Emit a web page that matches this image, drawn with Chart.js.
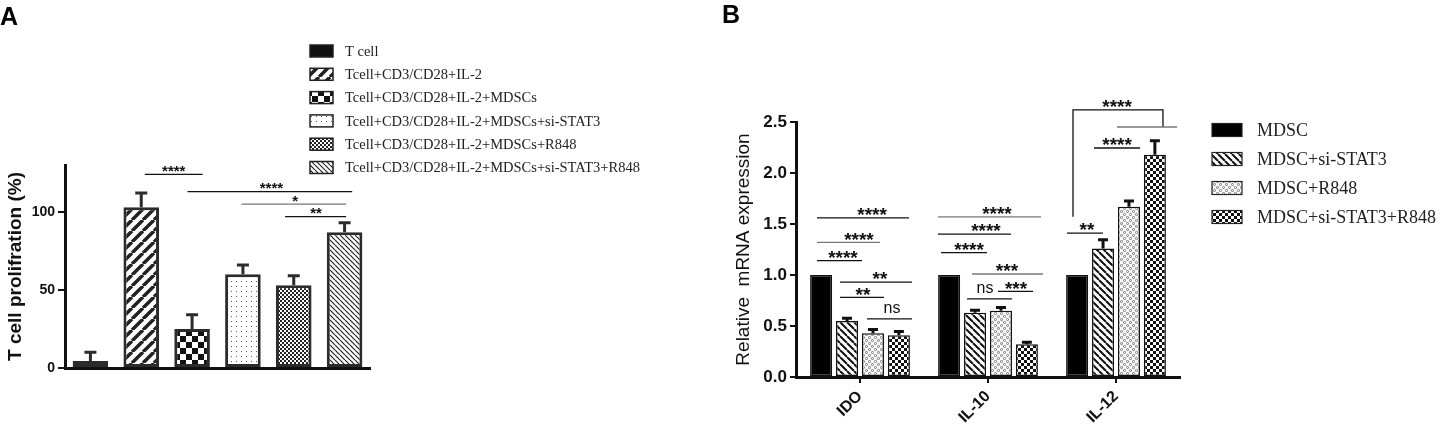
<!DOCTYPE html>
<html>
<head>
<meta charset="utf-8">
<script src="https://cdn.jsdelivr.net/npm/chart.js@4.4.1/dist/chart.umd.min.js"></script>
<style>
  html, body { margin: 0; padding: 0; background: #fff; }
  body { width: 1446px; height: 433px; position: relative; overflow: hidden; }
  #wrapA { position: absolute; left: 0; top: 0; width: 700px; height: 433px; }
  #wrapB { position: absolute; left: 700px; top: 0; width: 746px; height: 433px; }
  .panel { position: absolute; font: bold 25px Arial, "Liberation Sans", sans-serif; color: #000; z-index: 2; }
</style>
</head>
<body>
<div id="wrapA"><canvas id="chartA"></canvas></div>
<div id="wrapB"><canvas id="chartB"></canvas></div>
<div class="panel" style="left:0px;top:2px">A</div>
<div class="panel" style="left:722px;top:0px">B</div>
<script>
// ---- panel A data ----
const groupsA = ['T cell', 'Tcell+CD3/CD28+IL-2', 'Tcell+CD3/CD28+IL-2+MDSCs',
  'Tcell+CD3/CD28+IL-2+MDSCs+si-STAT3', 'Tcell+CD3/CD28+IL-2+MDSCs+R848',
  'Tcell+CD3/CD28+IL-2+MDSCs+si-STAT3+R848'];
const prolif = [4.5, 103, 25, 60, 53, 87];
const prolifErr = [6.5, 10, 10, 7, 7, 7];
const ticksA = [0, 50, 100];
// significance marks, x in category units, y in data units
const sigA = [
  { x1: 1.07, x2: 2.21, y: 124, tx: 1.64, label: '****' },
  { x1: 1.91, x2: 5.15, y: 113, tx: 3.56, label: '****' },
  { x1: 2.97, x2: 5.03, y: 105, tx: 4.03, label: '*', gray: true },
  { x1: 3.83, x2: 5.03, y: 97, tx: 4.44, label: '**' }
];

// ---- panel B data ----
const genes = ['IDO', 'IL-10', 'IL-12'];
const seriesB = ['MDSC', 'MDSC+si-STAT3', 'MDSC+R848', 'MDSC+si-STAT3+R848'];
const mdsc = [1.0, 1.0, 1.0];
const mdscSi = [0.55, 0.63, 1.26];
const mdscR848 = [0.43, 0.65, 1.67];
const mdscSiR848 = [0.41, 0.32, 2.18];
const mdscErr = [0, 0, 0];
const mdscSiErr = [0.04, 0.04, 0.1];
const mdscR848Err = [0.05, 0.045, 0.07];
const mdscSiR848Err = [0.05, 0.035, 0.15];
const ticksB = [0, 0.5, 1.0, 1.5, 2.0, 2.5];
const sigB = [
  { x1: -0.336, x2: 0.383, y: 1.56, tx: 0.094, label: '****' },
  { x1: -0.336, x2: 0.156, y: 1.32, tx: -0.008, label: '****', gray: true },
  { x1: -0.336, x2: 0.016, y: 1.14, tx: -0.133, label: '****' },
  { x1: -0.156, x2: 0.406, y: 0.93, tx: 0.156, label: '**' },
  { x1: -0.156, x2: 0.188, y: 0.78, tx: 0.023, label: '**' },
  { x1: 0.055, x2: 0.406, y: 0.57, tx: 0.25, label: 'ns' },
  { x1: 0.609, x2: 1.414, y: 1.57, tx: 1.07, label: '****', gray: true },
  { x1: 0.609, x2: 1.18, y: 1.40, tx: 0.984, label: '****' },
  { x1: 0.633, x2: 0.992, y: 1.22, tx: 0.852, label: '****' },
  { x1: 0.875, x2: 1.43, y: 1.01, tx: 1.148, label: '***', gray: true },
  { x1: 1.078, x2: 1.352, y: 0.84, tx: 1.219, label: '***' },
  { x1: 0.836, x2: 1.188, y: 0.765, tx: 0.977, label: 'ns' },
  { x1: 1.617, x2: 1.898, y: 1.41, tx: 1.773, label: '**' },
  { x1: 1.828, x2: 2.188, y: 2.245, tx: 2.008, label: '****' },
  { path: [[1.664, 1.57], [1.664, 2.618], [2.367, 2.618], [2.367, 2.451]], y: 2.618, tx: 2.008, label: '****' },
  { x1: 2.008, x2: 2.477, y: 2.451, label: '', gray: true }
];

// ---- fill patterns ----
function tile(w, h, draw) {
  const c = document.createElement('canvas');
  c.width = w; c.height = h;
  const g = c.getContext('2d');
  g.fillStyle = '#fff';
  g.fillRect(0, 0, w, h);
  draw(g);
  return c;
}
function stripes(s, lw, up, color) {
  return tile(s, s, g => {
    g.strokeStyle = color; g.lineWidth = lw;
    g.beginPath();
    for (let k = -1; k <= 1; k++) {
      if (up) { g.moveTo(k * s, s); g.lineTo(k * s + s, 0); }
      else { g.moveTo(k * s, 0); g.lineTo(k * s + s, s); }
    }
    g.stroke();
  });
}
function checker(s, color) {
  return tile(2 * s, 2 * s, g => {
    g.fillStyle = color;
    g.fillRect(0, 0, s, s);
    g.fillRect(s, s, s, s);
  });
}
function dots(s, r, color) {
  return tile(s, s, g => {
    g.fillStyle = color;
    g.fillRect(1, 1, r, r);
  });
}
function rings(s, color) {
  return tile(s, s, g => {
    g.strokeStyle = color; g.lineWidth = 0.9;
    g.beginPath(); g.arc(s / 4, s / 4, 1.1, 0, Math.PI * 2); g.stroke();
    g.beginPath(); g.arc(3 * s / 4, 3 * s / 4, 1.1, 0, Math.PI * 2); g.stroke();
  });
}

const ctxA = document.getElementById('chartA').getContext('2d');
const ctxB = document.getElementById('chartB').getContext('2d');

const fillsA = [
  '#111',
  ctxA.createPattern(stripes(11, 3.5, true, '#222'), 'repeat'),
  ctxA.createPattern(checker(6, '#111'), 'repeat'),
  ctxA.createPattern(dots(5, 1, '#555'), 'repeat'),
  ctxA.createPattern(checker(2, '#222'), 'repeat'),
  ctxA.createPattern(stripes(5, 1.2, false, '#222'), 'repeat')
];
const fillsB = [
  '#000',
  ctxB.createPattern(stripes(7, 2, false, '#111'), 'repeat'),
  ctxB.createPattern(rings(6, '#666'), 'repeat'),
  ctxB.createPattern(checker(3, '#111'), 'repeat')
];

// ---- plugins ----
function errorBars(cfg) {
  return {
    id: 'errorBars',
    afterDatasetsDraw(chart) {
      const ctx = chart.ctx, y = chart.scales.y;
      ctx.save();
      ctx.strokeStyle = cfg.color;
      ctx.lineWidth = cfg.lw;
      chart.data.datasets.forEach((ds, di) => {
        chart.getDatasetMeta(di).data.forEach((bar, i) => {
          const e = ds.err[i];
          if (!e) return;
          const top = y.getPixelForValue(ds.data[i] + e);
          ctx.beginPath();
          ctx.moveTo(bar.x, bar.y);
          ctx.lineTo(bar.x, top);
          ctx.moveTo(bar.x - cfg.cap / 2, top + cfg.lw / 2);
          ctx.lineTo(bar.x + cfg.cap / 2, top + cfg.lw / 2);
          ctx.stroke();
        });
      });
      ctx.restore();
    }
  };
}

function sigMarks(marks, cfg) {
  return {
    id: 'sigMarks',
    afterDatasetsDraw(chart) {
      const ctx = chart.ctx, x = chart.scales.x, y = chart.scales.y;
      ctx.save();
      ctx.lineWidth = cfg.lw;
      marks.forEach(m => {
        ctx.strokeStyle = m.gray ? '#777' : '#111';
        ctx.beginPath();
        if (m.path) {
          m.path.forEach(([px, py], i) => {
            const X = x.getPixelForValue(px), Y = y.getPixelForValue(py);
            if (i) ctx.lineTo(X, Y); else ctx.moveTo(X, Y);
          });
        } else {
          const Y = y.getPixelForValue(m.y);
          ctx.moveTo(x.getPixelForValue(m.x1), Y);
          ctx.lineTo(x.getPixelForValue(m.x2), Y);
        }
        ctx.stroke();
        if (!m.label) return;
        const ns = m.label === 'ns';
        const size = ns ? cfg.nsSize : cfg.starSize;
        const cy = y.getPixelForValue(m.y) - (ns ? cfg.nsGap : cfg.starGap);
        ctx.fillStyle = '#111';
        ctx.font = (ns ? '' : 'bold ') + size + 'px Arial, "Liberation Sans", sans-serif';
        ctx.textAlign = 'center';
        ctx.textBaseline = 'alphabetic';
        ctx.fillText(m.label, x.getPixelForValue(m.tx), cy + size * (ns ? 0.26 : 0.59));
      });
      ctx.restore();
    }
  };
}

function boxLegend(labels, fills, cfg) {
  return {
    id: 'boxLegend',
    afterDraw(chart) {
      const ctx = chart.ctx;
      ctx.save();
      labels.forEach((t, i) => {
        const cy = cfg.y0 + i * cfg.dy;
        ctx.fillStyle = fills[i];
        ctx.fillRect(cfg.x, cy - cfg.h / 2, cfg.w, cfg.h);
        ctx.strokeStyle = '#222';
        ctx.lineWidth = cfg.lw;
        ctx.strokeRect(cfg.x, cy - cfg.h / 2, cfg.w, cfg.h);
        ctx.fillStyle = '#222';
        ctx.font = cfg.font;
        ctx.textAlign = 'left';
        ctx.textBaseline = 'middle';
        ctx.fillText(t, cfg.tx, cy + 1);
      });
      ctx.restore();
    }
  };
}

// ---- chart A ----
new Chart(ctxA, {
  type: 'bar',
  data: {
    labels: groupsA,
    datasets: [{
      data: prolif,
      err: prolifErr,
      backgroundColor: fillsA,
      borderColor: '#2b2b2b',
      borderWidth: 3,
      borderSkipped: false,
      barPercentage: 0.7,
      categoryPercentage: 1
    }]
  },
  options: {
    animation: false,
    responsive: true,
    maintainAspectRatio: false,
    layout: { padding: { left: 0, right: 330, top: 165, bottom: 0 } },
    plugins: { legend: { display: false }, tooltip: { enabled: false } },
    scales: {
      x: {
        grid: { display: false, drawTicks: false },
        border: { display: true, width: 3, color: '#111' },
        ticks: { display: false },
        afterFit: s => { s.height = 65; }
      },
      y: {
        min: 0,
        max: 130,
        afterBuildTicks: s => { s.ticks = ticksA.map(v => ({ value: v })); },
        grid: { display: true, drawOnChartArea: false, drawTicks: true, tickLength: 7, color: '#111', lineWidth: 2 },
        border: { width: 3, color: '#111' },
        ticks: { padding: 3, color: '#111', font: { family: 'Arial', size: 14, weight: 'bold' } },
        title: {
          display: true, text: 'T cell prolifration (%)', color: '#111',
          font: { family: 'Arial', size: 19, weight: 'bold' }, padding: { top: 4, bottom: 4 }
        },
        afterFit: s => { s.width = 65; }
      }
    }
  },
  plugins: [
    errorBars({ lw: 3, cap: 12, color: '#2b2b2b' }),
    sigMarks(sigA, { lw: 1.3, starSize: 15, starGap: 7, nsSize: 16, nsGap: 10 }),
    boxLegend(groupsA, fillsA, { x: 310, w: 23, h: 12, y0: 51, dy: 23.3, lw: 1.5, tx: 345,
      font: '14.5px "Liberation Serif", "Times New Roman", serif' })
  ]
});

// ---- chart B ----
const valuesB = [mdsc, mdscSi, mdscR848, mdscSiR848];
const errsB = [mdscErr, mdscSiErr, mdscR848Err, mdscSiR848Err];

new Chart(ctxB, {
  type: 'bar',
  data: {
    labels: genes,
    datasets: seriesB.map((name, k) => ({
      label: name,
      data: valuesB[k],
      err: errsB[k],
      backgroundColor: fillsB[k],
      borderColor: '#111',
      borderWidth: 1.5,
      borderSkipped: false,
      barPercentage: 0.85,
      categoryPercentage: 0.81
    }))
  },
  options: {
    animation: false,
    responsive: true,
    maintainAspectRatio: false,
    layout: { padding: { left: 28, right: 266, top: 122, bottom: 0 } },
    plugins: { legend: { display: false }, tooltip: { enabled: false } },
    scales: {
      x: {
        grid: { display: true, drawOnChartArea: false, drawTicks: true, tickLength: 6, offset: false, color: '#111', lineWidth: 2 },
        border: { display: true, width: 3, color: '#111' },
        ticks: { minRotation: 45, maxRotation: 45, padding: 4, color: '#111', font: { family: 'Arial', size: 16, weight: 'bold' } },
        afterFit: s => { s.height = 56; }
      },
      y: {
        min: 0,
        max: 2.5,
        afterBuildTicks: s => { s.ticks = ticksB.map(v => ({ value: v })); },
        grid: { display: true, drawOnChartArea: false, drawTicks: true, tickLength: 6, color: '#111', lineWidth: 2 },
        border: { width: 3, color: '#111' },
        ticks: { padding: 3, color: '#111', font: { family: 'Arial', size: 17, weight: 'bold' }, callback: v => v.toFixed(1) },
        title: {
          display: true, text: 'Relative  mRNA expression', color: '#111',
          font: { family: 'Arial', size: 19 }, padding: { top: 4, bottom: 4 }
        },
        afterFit: s => { s.width = 68; }
      }
    }
  },
  plugins: [
    errorBars({ lw: 3, cap: 10, color: '#111' }),
    sigMarks(sigB, { lw: 1.3, starSize: 19, starGap: 8, nsSize: 16, nsGap: 10 }),
    boxLegend(seriesB, fillsB, { x: 512, w: 30, h: 13, y0: 130, dy: 29, lw: 1.2, tx: 557,
      font: '18px "Liberation Serif", "Times New Roman", serif' })
  ]
});
</script>
</body>
</html>
